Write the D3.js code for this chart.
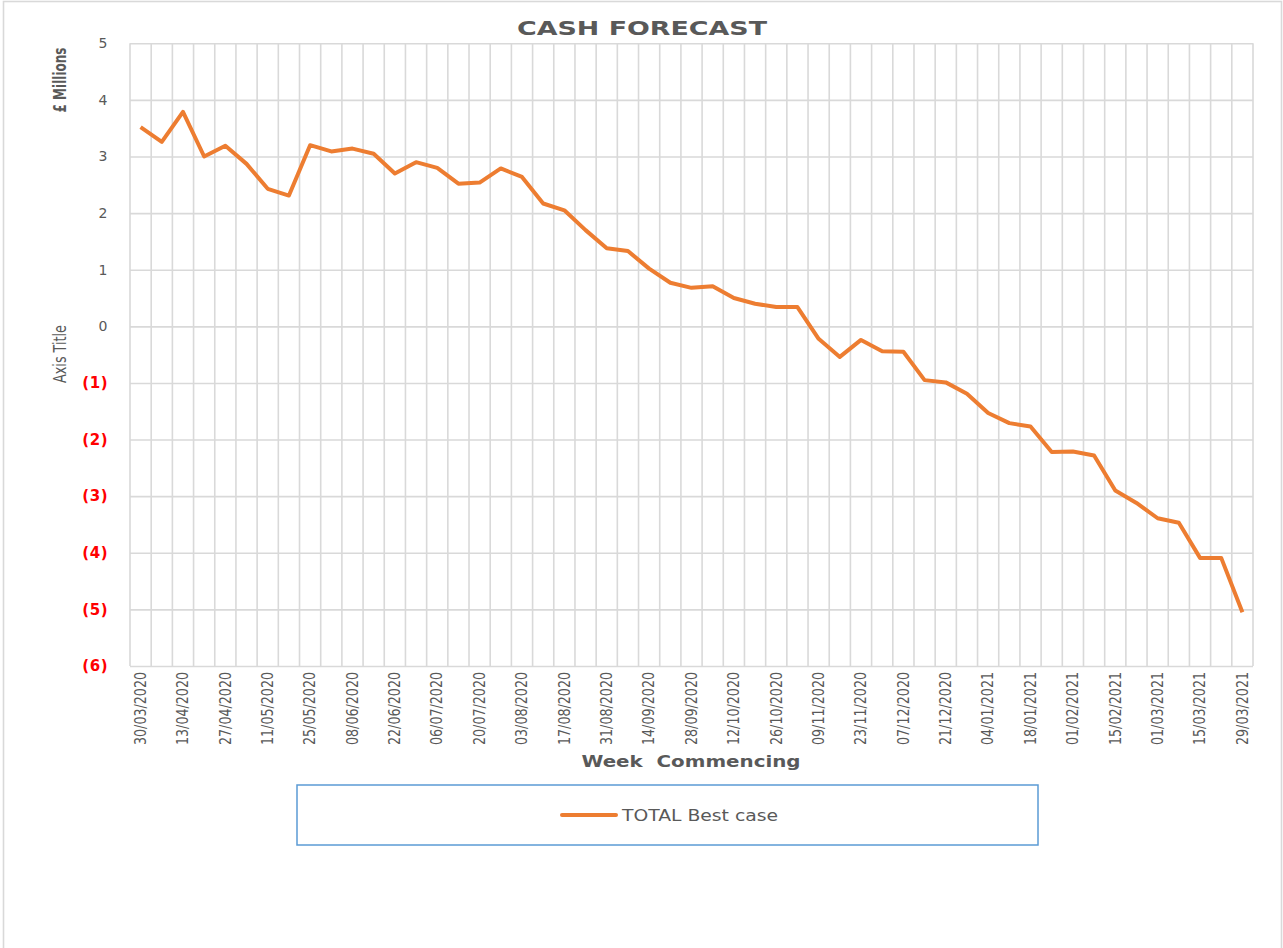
<!DOCTYPE html>
<html>
<head>
<meta charset="utf-8">
<script src="https://cdn.jsdelivr.net/npm/d3@7"></script>
<style>
  body { margin: 0; background: #fff; }
  .grid line { stroke: #d9d9d9; stroke-width: 1.6px; }
  .grid path { display: none; }
</style>
</head>
<body>
<div id="chart"></div>
<script>

var width = 1283;
var height = 948;

var marginLeft = 130;
var marginRight = 30;
var marginTop = 43.3;
var plotBottom = 666;

// week commencing
var weeks = [
  '30/03/2020','06/04/2020','13/04/2020','20/04/2020','27/04/2020','04/05/2020','11/05/2020','18/05/2020',
  '25/05/2020','01/06/2020','08/06/2020','15/06/2020','22/06/2020','29/06/2020','06/07/2020','13/07/2020',
  '20/07/2020','27/07/2020','03/08/2020','10/08/2020','17/08/2020','24/08/2020','31/08/2020','07/09/2020',
  '14/09/2020','21/09/2020','28/09/2020','05/10/2020','12/10/2020','19/10/2020','26/10/2020','02/11/2020',
  '09/11/2020','16/11/2020','23/11/2020','30/11/2020','07/12/2020','14/12/2020','21/12/2020','28/12/2020',
  '04/01/2021','11/01/2021','18/01/2021','25/01/2021','01/02/2021','08/02/2021','15/02/2021','22/02/2021',
  '01/03/2021','08/03/2021','15/03/2021','22/03/2021','29/03/2021'
];

// TOTAL Best case (£ millions)
var bestCase = [
  3.52, 3.26, 3.79, 3.00, 3.19, 2.87, 2.43, 2.31,
  3.20, 3.09, 3.14, 3.05, 2.70, 2.90, 2.80, 2.52,
  2.54, 2.79, 2.64, 2.17, 2.05, 1.70, 1.38, 1.33,
  1.02, 0.77, 0.68, 0.71, 0.50, 0.40, 0.34, 0.34,
  -0.22, -0.54, -0.24, -0.44, -0.45, -0.95, -0.99, -1.19,
  -1.53, -1.71, -1.77, -2.22, -2.21, -2.28, -2.90, -3.12,
  -3.39, -3.47, -4.09, -4.09, -5.05
];

var yTicks = [5, 4, 3, 2, 1, 0, -1, -2, -3, -4, -5, -6];

var svg = d3.select('#chart')
    .append('svg')
    .attr('width', width)
    .attr('height', height)
    .style('background-color', '#fff');

// outer chart border
svg.append('rect')
    .attr('x', 3.5).attr('y', 1.5)
    .attr('width', 1278).attr('height', 960)
    .attr('fill', 'none')
    .attr('stroke', '#d9d9d9')
    .attr('stroke-width', 1.6);

var x = d3.scaleBand()
    .domain(weeks)
    .range([marginLeft, width - marginRight]);

var y = d3.scaleLinear()
    .domain([-6, 5])
    .range([plotBottom, marginTop]);

// horizontal grid
svg.append('g')
    .attr('class', 'grid')
    .attr('transform', 'translate(' + marginLeft + ',0)')
    .call(d3.axisLeft(y)
        .tickValues(yTicks)
        .tickSize(-(width - marginRight - marginLeft))
        .tickFormat(''));

// vertical grid on the band edges
var edges = weeks.map(function(d) { return x(d); }).concat([x.range()[1]]);
svg.append('g')
    .attr('class', 'grid')
    .selectAll('line')
    .data(edges)
    .enter()
    .append('line')
    .attr('x1', function(d) { return d; })
    .attr('x2', function(d) { return d; })
    .attr('y1', marginTop)
    .attr('y2', plotBottom);

// y labels
svg.append('g')
    .selectAll('text')
    .data(yTicks)
    .enter()
    .append('text')
    .attr('x', 108)
    .attr('y', function(d) { return y(d); })
    .attr('dy', '0.35em')
    .attr('text-anchor', 'end')
    .text(function(d) { return d < 0 ? '(' + (-d) + ')' : d; })
    .style('fill', function(d) { return d < 0 ? '#ff0000' : '#595959'; })
    .style('font-family', 'DejaVu Sans, sans-serif')
    .style('font-size', function(d) { return d < 0 ? '15px' : '14px'; })
    .style('font-weight', function(d) { return d < 0 ? '700' : '400'; })
    .style('letter-spacing', '0.5px');

// x labels, every second week
svg.append('g')
    .selectAll('text')
    .data(weeks.filter(function(d, i) { return i % 2 === 0; }))
    .enter()
    .append('text')
    .attr('transform', function(d) {
        return 'translate(' + (x(d) + x.bandwidth() / 2) + ',672) rotate(-90)';
    })
    .attr('dy', '0.35em')
    .attr('text-anchor', 'end')
    .attr('textLength', 73)
    .attr('lengthAdjust', 'spacingAndGlyphs')
    .text(function(d) { return d; })
    .style('fill', '#595959')
    .style('font-family', 'DejaVu Sans Condensed, DejaVu Sans, sans-serif')
    .style('font-size', '15px');

// line
svg.append('path')
    .datum(bestCase)
    .attr('fill', 'none')
    .attr('stroke', '#ed7d31')
    .attr('stroke-width', 4)
    .attr('stroke-linejoin', 'round')
    .attr('d', d3.line()
        .x(function(d, i) { return x(weeks[i]) + x.bandwidth() / 2; })
        .y(function(d) { return y(d); }));

// title
svg.append('text')
    .attr('x', 642)
    .attr('y', 35)
    .attr('text-anchor', 'middle')
    .attr('textLength', 250)
    .attr('lengthAdjust', 'spacingAndGlyphs')
    .text('CASH FORECAST')
    .style('fill', '#595959')
    .style('font-family', 'DejaVu Sans, sans-serif')
    .style('font-size', '20px')
    .style('font-weight', '700');

// axis titles
svg.append('text')
    .attr('transform', 'translate(66,80) rotate(-90)')
    .attr('text-anchor', 'middle')
    .attr('textLength', 65)
    .attr('lengthAdjust', 'spacingAndGlyphs')
    .text('£ Millions')
    .style('fill', '#595959')
    .style('font-family', 'DejaVu Sans Condensed, DejaVu Sans, sans-serif')
    .style('font-size', '17px')
    .style('font-weight', '700');

svg.append('text')
    .attr('transform', 'translate(66,354) rotate(-90)')
    .attr('text-anchor', 'middle')
    .attr('textLength', 58)
    .attr('lengthAdjust', 'spacingAndGlyphs')
    .text('Axis Title')
    .style('fill', '#595959')
    .style('font-family', 'DejaVu Sans Condensed, DejaVu Sans, sans-serif')
    .style('font-size', '17px');

svg.append('text')
    .attr('x', 691)
    .attr('y', 767)
    .attr('text-anchor', 'middle')
    .attr('textLength', 219)
    .attr('lengthAdjust', 'spacingAndGlyphs')
    .text('Week  Commencing')
    .style('fill', '#595959')
    .style('font-family', 'DejaVu Sans, sans-serif')
    .style('font-size', '16px')
    .style('font-weight', '700')
    .style('white-space', 'pre');

// legend
svg.append('rect')
    .attr('x', 297).attr('y', 785)
    .attr('width', 741).attr('height', 60)
    .attr('fill', 'none')
    .attr('stroke', '#5b9bd5')
    .attr('stroke-width', 1.5);

svg.append('line')
    .attr('x1', 562).attr('x2', 616)
    .attr('y1', 815).attr('y2', 815)
    .attr('stroke', '#ed7d31')
    .attr('stroke-width', 4)
    .attr('stroke-linecap', 'round');

svg.append('text')
    .attr('x', 622)
    .attr('y', 820.5)
    .attr('textLength', 156)
    .attr('lengthAdjust', 'spacingAndGlyphs')
    .text('TOTAL Best case')
    .style('fill', '#595959')
    .style('font-family', 'DejaVu Sans, sans-serif')
    .style('font-size', '16px');

</script>
</body>
</html>
